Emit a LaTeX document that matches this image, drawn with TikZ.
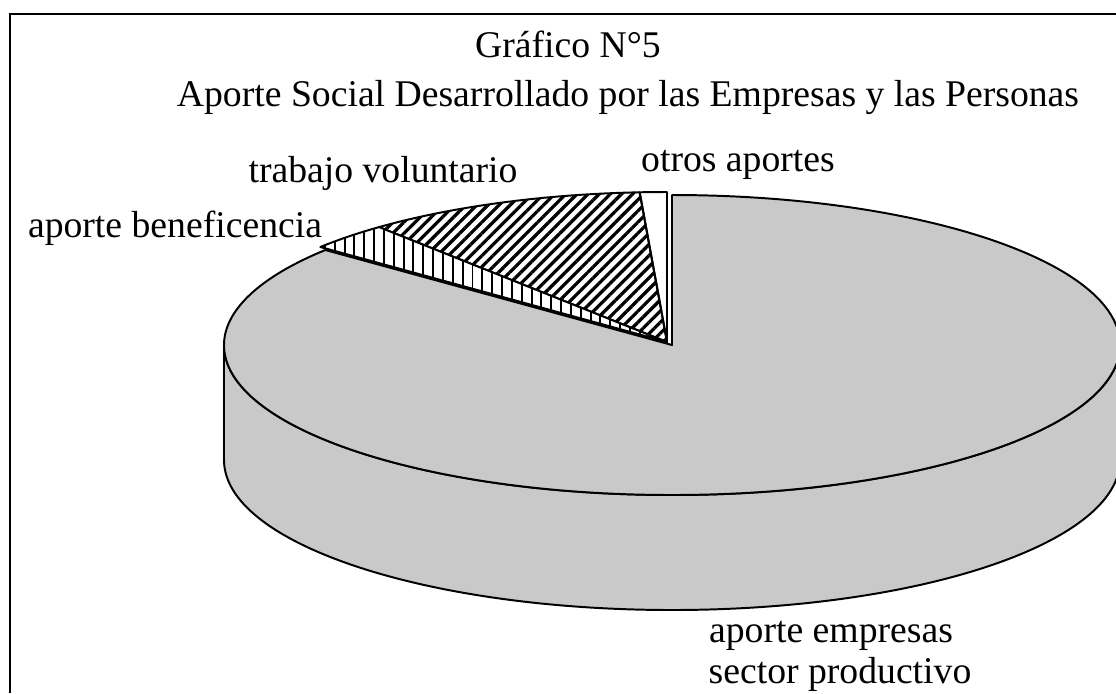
\documentclass[tikz,border=0pt]{standalone}
\usepackage{fontspec}
\setmainfont{Liberation Serif}
\usetikzlibrary{patterns.meta,positioning}

\begin{document}
\begin{tikzpicture}[x=0.025cm, y=0.025cm,
  lbl/.style={anchor=base, inner sep=0pt, font=\fontsize{26.8}{31}\selectfont},
  slice/.style={draw=black, line width=1.4pt, line join=round},
  grayslice/.style={slice, fill=black!21},
  lineslice/.style={slice, pattern={Lines[angle=45, distance=5.6pt, line width=2.3pt]}},
  vertslice/.style={slice, fill=white, postaction={pattern={Lines[angle=90, distance=7pt, line width=1.4pt]}}}]

\useasboundingbox (0,0) rectangle (1116,-693);

% frame
\draw[line width=2pt] (10,-693) -- (10,-14) -- (1116,-14);

% titles
\node[lbl] (titulo) at (568,-57) {Gráfico N°5};
\node[lbl] (subtitulo) at (628,-106) {Aporte Social Desarrollado por las Empresas y las Personas};

% big slice: side wall
\coordinate (c1) at (672,-345);
\draw[grayslice] (224,-345) -- (224,-460)
  arc[start angle=180, end angle=360, x radius=448, y radius=150]
  -- (1120,-345)
  arc[start angle=0, end angle=-180, x radius=448, y radius=150] -- cycle;

% big slice: top
\draw[grayslice] (c1) -- ++(90:448 and 150)
  arc[start angle=90, end angle=-219.3, x radius=448, y radius=150] -- cycle;

% small slices
\coordinate (c2) at (667,-342);
\draw[slice, fill=white] (c2) -- ++(90:448 and 150)
  arc[start angle=90, end angle=93.5, x radius=448, y radius=150] -- cycle;
\draw[lineslice] (c2) -- ++(93.5:448 and 150)
  arc[start angle=93.5, end angle=130, x radius=448, y radius=150] -- cycle;
\draw[vertslice] (c2) -- ++(130:448 and 150)
  arc[start angle=130, end angle=140.7, x radius=448, y radius=150] -- cycle;

% labels
\node[lbl] (otros) at (738,-171) {otros aportes};
\node[lbl] (trabajo) at (383,-182) {trabajo voluntario};
\node[lbl] (beneficencia) at (175,-237) {aporte beneficencia};
\node[lbl] (empresas) at (831,-642) {aporte empresas};
\node[lbl] (sector) at (840,-683) {sector productivo};

\end{tikzpicture}
\end{document}
